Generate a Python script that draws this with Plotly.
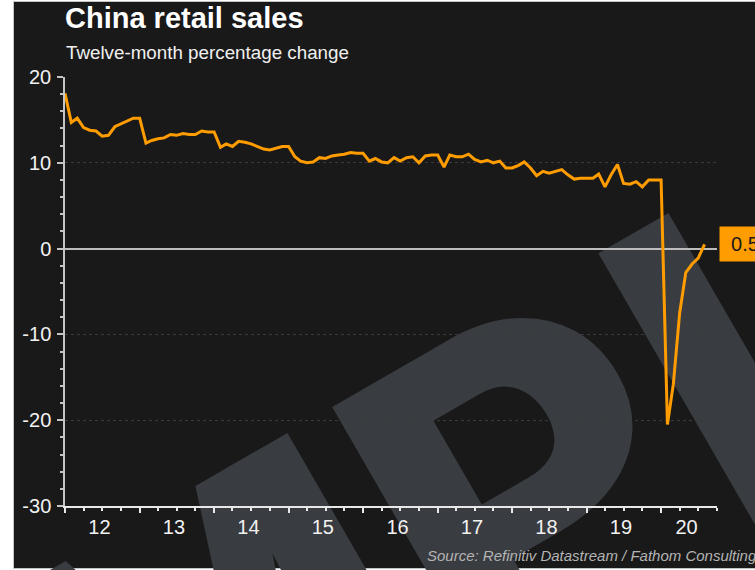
import plotly.graph_objects as go
import pandas as pd

# ---- data (twelve-month % change, China retail sales; Jan = previous Dec, Feb = Jan-Feb figure)
first_month = "2012-01-01"
sales_2012 = [18.1, 14.7, 15.2, 14.1, 13.8, 13.7, 13.1, 13.2, 14.2, 14.5, 14.9, 15.2]
sales_2013 = [15.2, 12.3, 12.6, 12.8, 12.9, 13.3, 13.2, 13.4, 13.3, 13.3, 13.7, 13.6]
sales_2014 = [13.6, 11.8, 12.2, 11.9, 12.5, 12.4, 12.2, 11.9, 11.6, 11.5, 11.7, 11.9]
sales_2015 = [11.9, 10.7, 10.2, 10.0, 10.1, 10.6, 10.5, 10.8, 10.9, 11.0, 11.2, 11.1]
sales_2016 = [11.1, 10.2, 10.5, 10.1, 10.0, 10.6, 10.2, 10.6, 10.7, 10.0, 10.8, 10.9]
sales_2017 = [10.9, 9.5, 10.9, 10.7, 10.7, 11.0, 10.4, 10.1, 10.3, 10.0, 10.2, 9.4]
sales_2018 = [9.4, 9.7, 10.1, 9.4, 8.5, 9.0, 8.8, 9.0, 9.2, 8.6, 8.1, 8.2]
sales_2019 = [8.2, 8.2, 8.7, 7.2, 8.6, 9.8, 7.6, 7.5, 7.8, 7.2, 8.0, 8.0]
sales_2020 = [8.0, -20.5, -15.8, -7.5, -2.8, -1.8, -1.1, 0.5]

year_labels = ["12", "13", "14", "15", "16", "17", "18", "19", "20"]
y_tick_values = [-30, -20, -10, 0, 10, 20]
y_tick_labels = ["-30", "-20", "-10", "0", "10", "20"]
last_value_label = "0.5"

values = (sales_2012 + sales_2013 + sales_2014 + sales_2015 + sales_2016
          + sales_2017 + sales_2018 + sales_2019 + sales_2020)
dates = pd.date_range(first_month, periods=len(values), freq="MS")

# ---- layout geometry
W, H = 755, 570
L, R, T, B = 65, 38, 77, 64
PW, PH = W - L - R, H - T - B


def px_x(px):
    return (px - L) / PW


def px_y(py):
    return (H - B - py) / PH


x_start, x_end = "2012-01-01", "2020-10-01"
year_starts = pd.date_range("2012-01-01", "2020-01-01", freq="YS")
quarters = pd.date_range("2012-01-01", "2020-10-01", freq="QS")
label_pos = [pd.Timestamp(f"20{y}-06-18") for y in year_labels[:-1]] + [pd.Timestamp("2020-05-05")]

ORANGE = "#FF9C00"
BG = "#191919"
FONT = "Liberation Sans, Arial, sans-serif"

fig = go.Figure()
fig.add_trace(go.Scatter(
    x=dates, y=values, mode="lines",
    line=dict(color=ORANGE, width=3),
    showlegend=False, hoverinfo="x+y",
))
# helper trace so the label axis exists
fig.add_trace(go.Scatter(
    x=[dates[0]], y=[values[0]], xaxis="x2", yaxis="y", mode="markers",
    marker=dict(opacity=0), showlegend=False, hoverinfo="skip",
))

wm_cx, wm_cy = 292, 592
shapes = [
    dict(type="rect", xref="paper", yref="paper", layer="below",
         x0=px_x(13.5), x1=px_x(765), y0=px_y(568.5), y1=px_y(1.5),
         fillcolor=BG, line=dict(color="#c4c4c4", width=1)),
    dict(type="rect", xref="paper", yref="paper", layer="below",
         x0=px_x(wm_cx - 2), x1=px_x(wm_cx + 2), y0=px_y(wm_cy + 2), y1=px_y(wm_cy - 2),
         fillcolor="rgba(0,0,0,0)", line=dict(width=0),
         label=dict(text="SAMPLE", textangle=-30, textposition="middle center",
                    font=dict(family="Roboto", size=472, color="#393c40", weight=900))),
]

annotations = [
    dict(text="<b>China retail sales</b>", xref="paper", yref="paper",
         x=px_x(63), y=px_y(18), xanchor="left", yanchor="middle", showarrow=False,
         font=dict(family=FONT, size=29, color="#ffffff")),
    dict(text="Twelve-month percentage change", xref="paper", yref="paper",
         x=px_x(64), y=px_y(53), xanchor="left", yanchor="middle", showarrow=False,
         font=dict(family=FONT, size=18.8, color="#f0f0f0")),
    dict(text="<i>Source: Refinitiv Datastream / Fathom Consulting</i>", xref="paper", yref="paper",
         x=px_x(759), y=px_y(555), xanchor="right", yanchor="middle", showarrow=False,
         font=dict(family=FONT, size=15, color="#b4b4b4")),
    dict(text=last_value_label, xref="paper", yref="y",
         x=px_x(719), y=values[-1], xanchor="left", yanchor="middle", showarrow=False,
         bgcolor=ORANGE, width=38, align="center", borderpad=6,
         font=dict(family=FONT, size=20, color="#1a1a1a")),
]

fig.update_layout(
    width=W, height=H,
    margin=dict(l=L, r=R, t=T, b=B, pad=0, autoexpand=False),
    paper_bgcolor="#ffffff", plot_bgcolor="rgba(0,0,0,0)",
    font=dict(family=FONT, color="#f0f0f0"),
    shapes=shapes, annotations=annotations,
    showlegend=False,
    xaxis=dict(
        type="date", range=[x_start, x_end], fixedrange=True, automargin=False,
        tickmode="array", tickvals=list(year_starts), showticklabels=False,
        ticks="outside", ticklen=5, tickwidth=1.5, tickcolor="#e8e8e8",
        showline=True, linecolor="#e8e8e8", linewidth=2,
        showgrid=False, zeroline=False,
        minor=dict(tickmode="array", tickvals=list(quarters), ticks="outside",
                   ticklen=3, tickwidth=1.5, tickcolor="#e8e8e8", showgrid=False),
    ),
    xaxis2=dict(
        type="date", overlaying="x", matches="x", anchor="y", side="bottom",
        automargin=False,
        tickmode="array", tickvals=label_pos, ticktext=year_labels,
        ticks="", showline=False, showgrid=False, zeroline=False,
        ticklabelstandoff=7,
        tickfont=dict(family=FONT, size=20, color="#f2f2f2"),
    ),
    yaxis=dict(
        range=[-30, 20], fixedrange=True, automargin=False,
        tickmode="array", tickvals=y_tick_values, ticktext=y_tick_labels,
        ticks="outside", ticklen=6, tickwidth=1.5, tickcolor="#c4c4c4",
        showline=True, linecolor="#c4c4c4", linewidth=1.5,
        showgrid=True, gridcolor="#3a3a3a", griddash="dot", gridwidth=1,
        zeroline=True, zerolinecolor="#bdbdbd", zerolinewidth=2,
        ticklabelstandoff=2,
        tickfont=dict(family=FONT, size=20, color="#f2f2f2"),
        minor=dict(tickmode="linear", tick0=0, dtick=2, ticks="outside",
                   ticklen=3, tickwidth=1.5, tickcolor="#c4c4c4", showgrid=False),
    ),
)

fig.write_html("out.html", config={"displayModeBar": False},
               post_script="document.body.style.margin='0';")
